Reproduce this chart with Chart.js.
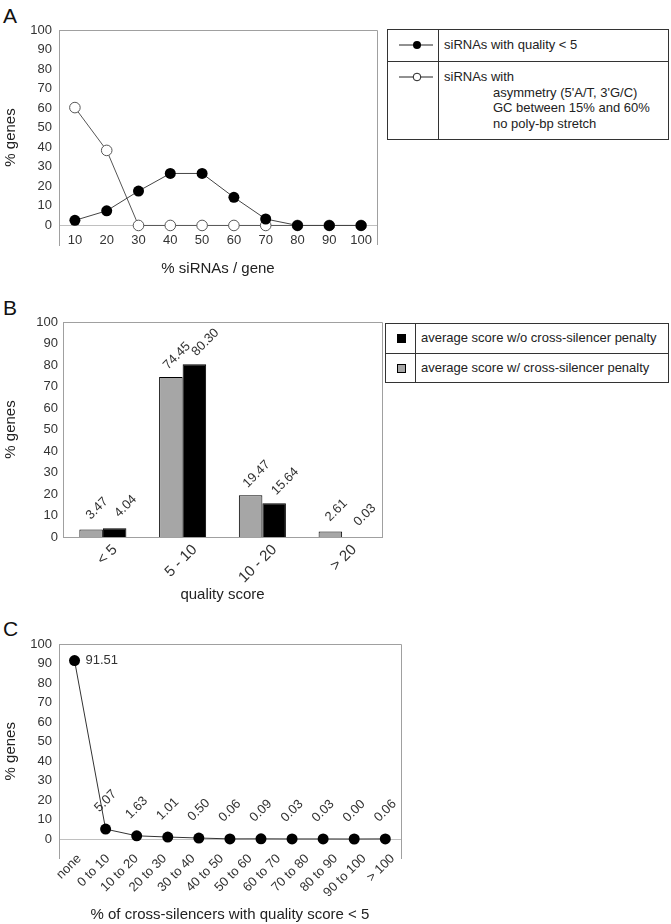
<!DOCTYPE html>
<html>
<head>
<meta charset="utf-8">
<script src="https://cdn.jsdelivr.net/npm/chart.js@4.4.1/dist/chart.umd.min.js"></script>
<style>
  body { margin: 0; background: #fff; font-family: "Liberation Sans", Arial, sans-serif; color: #222; }
  #page { position: relative; width: 671px; height: 924px; overflow: hidden; }
  .panel { position: absolute; left: 0; }
  .tag { position: absolute; left: 3px; font-size: 21px; line-height: 21px; color: #111; }
  .legend { position: absolute; box-sizing: border-box; border: 1px solid #333; font-size: 13px; color: #222; }
  .legend .vline { position: absolute; top: 0; bottom: 0; width: 1px; background: #333; }
  .legend .hline { position: absolute; left: 0; right: 0; height: 1px; background: #333; }
  .legend .txt { position: absolute; white-space: nowrap; line-height: 15.5px; }
  .legend .sw { position: absolute; width: 9px; height: 9px; box-sizing: border-box; border: 1px solid #000; }
</style>
</head>
<body>
<div id="page">
  <div class="tag" style="top:5px">A</div>
  <div class="tag" style="top:297px">B</div>
  <div class="tag" style="top:618px">C</div>

  <div class="panel" style="top:0;width:385px;height:285px"><canvas id="chartA"></canvas></div>
  <div class="panel" style="top:290px;width:385px;height:320px"><canvas id="chartB"></canvas></div>
  <div class="panel" style="top:600px;width:410px;height:324px"><canvas id="chartC"></canvas></div>

  <div class="legend" style="left:387px;top:29px;width:282px;height:111px">
    <div class="vline" style="left:50px"></div>
    <div class="hline" style="top:31px"></div>
    <svg style="position:absolute;left:0;top:0" width="50" height="109">
      <line x1="11" y1="15" x2="45" y2="15" stroke="#222" stroke-width="1"/>
      <circle cx="29" cy="15" r="4" fill="#000"/>
      <line x1="11" y1="47" x2="45" y2="47" stroke="#222" stroke-width="1"/>
      <circle cx="29" cy="47" r="3.8" fill="#fff" stroke="#222" stroke-width="1"/>
    </svg>
    <div class="txt" style="left:56px;top:7px">siRNAs with quality &lt; 5</div>
    <div class="txt" style="left:56px;top:39px">siRNAs with</div>
    <div class="txt" style="left:105px;top:55px">asymmetry (5'A/T, 3'G/C)</div>
    <div class="txt" style="left:105px;top:70px">GC between 15% and 60%</div>
    <div class="txt" style="left:105px;top:86px">no poly-bp stretch</div>
  </div>

  <div class="legend" style="left:385px;top:323px;width:284px;height:60px">
    <div class="vline" style="left:29px"></div>
    <div class="hline" style="top:29px"></div>
    <div class="sw" style="left:11px;top:10px;background:#000"></div>
    <div class="sw" style="left:11px;top:40px;background:#a6a6a6"></div>
    <div class="txt" style="left:35px;top:6px">average score w/o cross-silencer penalty</div>
    <div class="txt" style="left:35px;top:36px">average score w/ cross-silencer penalty</div>
  </div>
</div>

<script>
  // panel A: share of siRNAs per gene
  const sirnaBins = ['10', '20', '30', '40', '50', '60', '70', '80', '90', '100'];
  const goodQuality = [2.6, 7.5, 17.6, 26.6, 26.6, 14.4, 3.3, 0, 0, 0];
  const withRules = [60.3, 38.4, 0, 0, 0, 0, 0, 0, 0, 0];

  // panel B: quality score distribution
  const scoreBins = ['< 5', '5 - 10', '10 - 20', '> 20'];
  const withPenalty = [3.47, 74.45, 19.47, 2.61];
  const withoutPenalty = [4.04, 80.30, 15.64, 0.03];

  // panel C: cross-silencers with quality score < 5
  const crossBins = ['none', '0 to 10', '10 to 20', '20 to 30', '30 to 40', '40 to 50',
    '50 to 60', '60 to 70', '70 to 80', '80 to 90', '90 to 100', '> 100'];
  const crossShare = [91.51, 5.07, 1.63, 1.01, 0.50, 0.06, 0.09, 0.03, 0.03, 0.00, 0.06];

  const percentTicks = [0, 10, 20, 30, 40, 50, 60, 70, 80, 90, 100];

  const FONT = '"Liberation Sans", Arial, sans-serif';
  const TEXT = '#333';
  const AXIS = '#a0a0a0';

  Chart.defaults.font.family = FONT;
  Chart.defaults.color = TEXT;
  Chart.defaults.animation = false;
  Chart.defaults.responsive = true;
  Chart.defaults.maintainAspectRatio = false;
  Chart.defaults.devicePixelRatio = 1;
  Chart.defaults.plugins.legend.display = false;
  Chart.defaults.plugins.tooltip.enabled = false;

  // top and right edge of the plot box
  const framePlugin = {
    id: 'frame',
    beforeDatasetsDraw(chart) {
      const { left, right, top, bottom } = chart.chartArea;
      const ctx = chart.ctx;
      ctx.save();
      ctx.strokeStyle = AXIS;
      ctx.lineWidth = 1;
      ctx.beginPath();
      ctx.moveTo(Math.round(left), Math.round(top) + 0.5);
      ctx.lineTo(Math.round(right) + 0.5, Math.round(top) + 0.5);
      ctx.lineTo(Math.round(right) + 0.5, Math.round(bottom));
      ctx.stroke();
      ctx.restore();
    }
  };

  // rotated value labels above bars / points
  const valueLabels = {
    id: 'valueLabels',
    afterDatasetsDraw(chart, args, opts) {
      const ctx = chart.ctx;
      ctx.save();
      ctx.font = `${opts.size || 13}px ${FONT}`;
      ctx.fillStyle = TEXT;
      chart.data.datasets.forEach((ds, i) => {
        if (!ds.labelValues) return;
        const off = ds.labelOffset || { dx: 0, dy: -20 };
        chart.getDatasetMeta(i).data.forEach((el, j) => {
          const text = ds.labelValues[j].toFixed(2);
          if (opts.flatFirst && j === 0) {
            ctx.textAlign = 'left';
            ctx.textBaseline = 'middle';
            ctx.fillText(text, el.x + 11, el.y);
            return;
          }
          ctx.save();
          ctx.translate(el.x + off.dx, el.y + off.dy);
          ctx.rotate(-Math.PI / 4);
          ctx.textAlign = 'center';
          ctx.textBaseline = 'middle';
          ctx.fillText(text, 0, 0);
          ctx.restore();
        });
      });
      ctx.restore();
    }
  };

  function fixWidth(w) {
    return scale => { scale.width = w; };
  }

  function fixHeight(h) {
    return scale => { scale.height = h; };
  }

  function percentAxis(min, width, pad) {
    return {
      type: 'linear',
      min: min,
      max: 100,
      afterBuildTicks: scale => { scale.ticks = percentTicks.map(v => ({ value: v })); },
      afterFit: fixWidth(width),
      grid: { display: false, drawTicks: false },
      border: { color: AXIS },
      ticks: { font: { size: 13 }, padding: pad, color: TEXT },
      title: { display: true, text: '% genes', font: { size: 15 }, color: '#222', padding: { top: 2, bottom: 0 } }
    };
  }

  new Chart(document.getElementById('chartA'), {
    type: 'line',
    data: {
      labels: sirnaBins,
      datasets: [
        {
          data: goodQuality,
          borderColor: '#444', borderWidth: 1,
          pointRadius: 5.5, pointBackgroundColor: '#000', pointBorderColor: '#000', pointBorderWidth: 0
        },
        {
          data: withRules,
          borderColor: '#555', borderWidth: 1,
          pointRadius: 5.3, pointBackgroundColor: '#fff', pointBorderColor: '#555', pointBorderWidth: 1
        }
      ]
    },
    options: {
      layout: { padding: { left: 0, top: 30, right: 8, bottom: 40 } },
      scales: {
        x: {
          type: 'category',
          offset: true,
          position: { y: 0 },
          afterFit: fixHeight(52),
          grid: { display: false, drawTicks: false },
          border: { color: '#c0c0c0' },
          ticks: { font: { size: 13 }, padding: 7, maxRotation: 0, color: TEXT },
          title: { display: true, text: '% siRNAs / gene', font: { size: 15 }, color: '#222', padding: 0 }
        },
        y: percentAxis(-10, 59, 7)
      }
    },
    plugins: [framePlugin]
  });

  new Chart(document.getElementById('chartB'), {
    type: 'bar',
    data: {
      labels: scoreBins,
      datasets: [
        {
          data: withPenalty, labelValues: withPenalty, labelOffset: { dx: 6, dy: -21 },
          backgroundColor: '#a6a6a6', borderColor: '#000', borderWidth: 1,
          categoryPercentage: 0.59, barPercentage: 1
        },
        {
          data: withoutPenalty, labelValues: withoutPenalty, labelOffset: { dx: 11, dy: -22 },
          backgroundColor: '#000', borderColor: '#000', borderWidth: 1,
          categoryPercentage: 0.59, barPercentage: 1
        }
      ]
    },
    options: {
      layout: { padding: { left: 0, top: 32, right: 3, bottom: 0 } },
      scales: {
        x: {
          afterFit: fixHeight(73),
          grid: { display: false, drawTicks: false },
          border: { color: AXIS },
          ticks: { font: { size: 15 }, padding: 4, minRotation: 45, maxRotation: 45, labelOffset: 12, color: TEXT },
          title: { display: true, text: 'quality score', font: { size: 15 }, color: '#222', padding: { top: 0, bottom: 6 } }
        },
        y: percentAxis(0, 63, 5)
      },
      plugins: { valueLabels: { size: 13 } }
    },
    plugins: [framePlugin, valueLabels]
  });

  new Chart(document.getElementById('chartC'), {
    type: 'line',
    data: {
      labels: crossBins,
      datasets: [
        {
          xAxisID: 'xp',
          data: crossShare.map((v, i) => ({ x: i, y: v })),
          labelValues: crossShare, labelOffset: { dx: 0, dy: -28 },
          borderColor: '#333', borderWidth: 1,
          pointRadius: 5.5, pointBackgroundColor: '#000', pointBorderColor: '#000', pointBorderWidth: 0
        }
      ]
    },
    options: {
      layout: { padding: { left: 0, top: 44, right: 7, bottom: 65.5 } },
      scales: {
        x: {
          type: 'category',
          offset: true,
          position: { y: 0 },
          afterFit: fixHeight(85),
          grid: { display: false, drawTicks: false },
          border: { color: '#c0c0c0' },
          ticks: { font: { size: 13 }, padding: 12, minRotation: 45, maxRotation: 45, labelOffset: 6, autoSkip: false, color: TEXT },
          title: { display: true, text: '% of cross-silencers with quality score < 5', font: { size: 15 }, color: '#222', padding: 0 }
        },
        xp: {
          type: 'linear',
          display: false,
          min: -0.5,
          max: crossShare.length - 0.5
        },
        y: percentAxis(-10, 59, 7)
      },
      plugins: { valueLabels: { size: 13, flatFirst: true } }
    },
    plugins: [framePlugin, valueLabels]
  });
</script>
</body>
</html>
